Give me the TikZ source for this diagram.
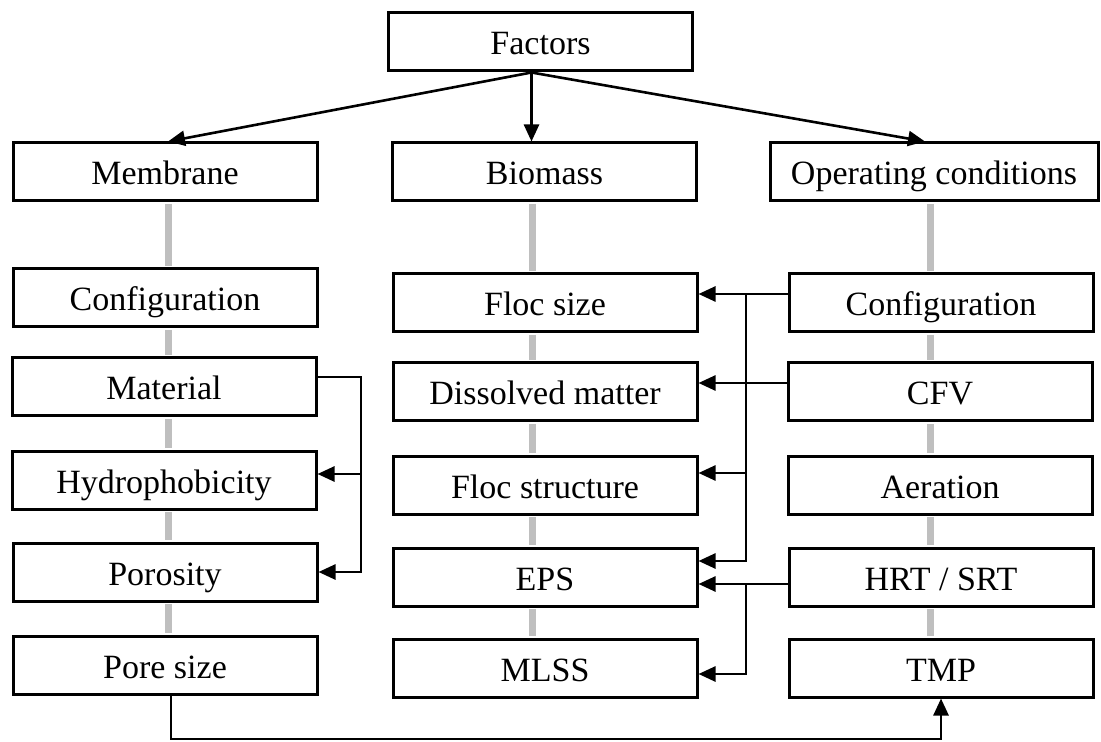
\documentclass[tikz,border=0pt]{standalone}
\usepackage{fontspec}
\setmainfont{Liberation Serif}
\usetikzlibrary{arrows.meta}
\tikzset{
  factorBox/.style={draw, line width=1.5pt, fill=white, inner sep=0pt,
    minimum width=152pt, minimum height=29pt, text height=13pt, text depth=0pt,
    font=\fontsize{17}{19}\selectfont},
  grayLink/.style={draw=black!25, line width=3.5pt,
    shorten <=0.75pt, shorten >=0.75pt},
  arrowLink/.style={line width=1.3pt, -{Triangle[length=8.5pt,width=7.5pt]}},
}

\begin{document}
\begin{tikzpicture}[x=0.5pt, y=-0.5pt]
\useasboundingbox (0,0) rectangle (1101,742);
\node[factorBox] (factors) at (540.5,42) {Factors};
\node[factorBox] (membrane) at (165,172) {Membrane};
\node[factorBox] (biomass) at (544.5,172) {Biomass};
\node[factorBox, minimum width=164pt] (operating) at (934,172) {Operating conditions};

\node[factorBox] (memConfig) at (165,298) {Configuration};
\node[factorBox] (memMaterial) at (164,387) {Material};
\node[factorBox] (memHydro) at (164,480) {Hydrophobicity};
\node[factorBox] (memPorosity) at (165,572) {Porosity};
\node[factorBox] (memPore) at (165,665) {Pore size};

\node[factorBox] (bioFlocSize) at (545,303) {Floc size};
\node[factorBox] (bioDissolved) at (545,392) {Dissolved matter};
\node[factorBox] (bioFlocStruct) at (545,485) {Floc structure};
\node[factorBox] (bioEPS) at (545,577) {EPS};
\node[factorBox] (bioMLSS) at (545,668) {MLSS};

\node[factorBox] (opConfig) at (941,303) {Configuration};
\node[factorBox] (opCFV) at (940,392) {CFV};
\node[factorBox] (opAeration) at (940,485) {Aeration};
\node[factorBox] (opHRT) at (941,577) {HRT / SRT};
\node[factorBox] (opTMP) at (941,668) {TMP};

\coordinate (memBar) at (168,0);
\coordinate (bioBar) at (532,0);
\coordinate (opBar) at (930,0);
\foreach \a/\b/\c in {membrane/memConfig/memBar, memConfig/memMaterial/memBar,
    memMaterial/memHydro/memBar, memHydro/memPorosity/memBar, memPorosity/memPore/memBar,
    biomass/bioFlocSize/bioBar, bioFlocSize/bioDissolved/bioBar,
    bioDissolved/bioFlocStruct/bioBar, bioFlocStruct/bioEPS/bioBar, bioEPS/bioMLSS/bioBar,
    operating/opConfig/opBar, opConfig/opCFV/opBar, opCFV/opAeration/opBar,
    opAeration/opHRT/opBar, opHRT/opTMP/opBar}
  \draw[grayLink] (\c |- \a.south) -- (\c |- \b.north);

\coordinate (factorsOut) at ([xshift=-4.5pt]factors.south);
\draw[arrowLink] (factorsOut) -- ([xshift=1.5pt]membrane.north);
\draw[arrowLink] (factorsOut) -- (factorsOut |- biomass.north);
\draw[arrowLink] (factorsOut) -- ([xshift=-4.5pt]operating.north);

\coordinate (memBus) at (361,377);
\coordinate (hydroIn) at ([yshift=3pt]memHydro.east);
\draw[arrowLink] ([yshift=5pt]memMaterial.east) -- (memBus) |- (memPorosity.east);
\draw[arrowLink] (memBus |- hydroIn) -- (hydroIn);

\coordinate (opBus) at (746,294);
\coordinate (flocStructIn) at ([yshift=6pt]bioFlocStruct.east);
\draw[arrowLink] ([yshift=4.5pt]opConfig.west) -- ([yshift=4.5pt]bioFlocSize.east);
\draw[arrowLink] (opBus) |- ([yshift=8pt]bioEPS.east);
\draw[arrowLink] (opBus |- flocStructIn) -- (flocStructIn);
\draw[arrowLink] ([yshift=4.5pt]opCFV.west) -- ([yshift=4.5pt]bioDissolved.east);

\coordinate (hrtBus) at (746,584);
\draw[arrowLink] ([yshift=-3.5pt]opHRT.west) -- ([yshift=-3.5pt]bioEPS.east);
\draw[arrowLink] (hrtBus) |- ([yshift=-3pt]bioMLSS.east);

\coordinate (poreTurn) at (171,739);
\draw[arrowLink] ([xshift=3pt]memPore.south) -- (poreTurn) -| (opTMP.south);
\end{tikzpicture}
\end{document}
